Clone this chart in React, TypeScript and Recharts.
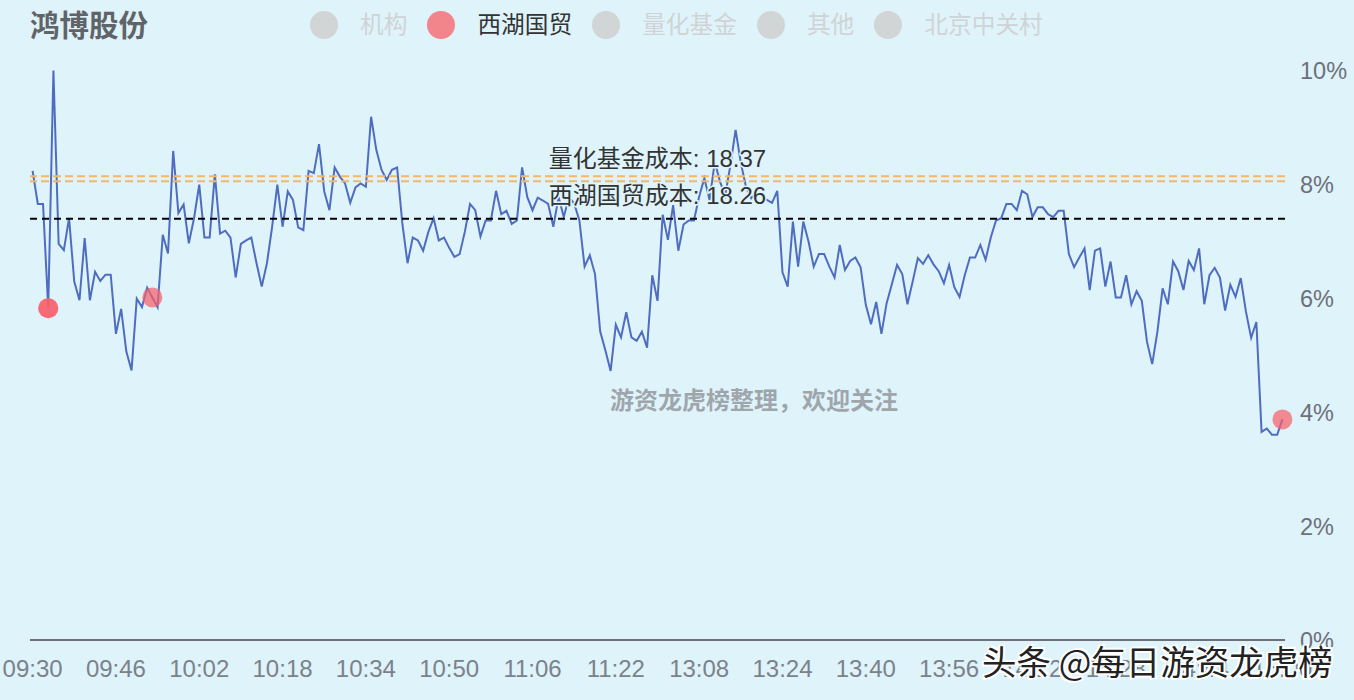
import React from "react";
import { LineChart, Line, XAxis, YAxis, ReferenceLine } from "recharts";

const stockName = "鸿博股份";
const watermark = "游资龙虎榜整理\uFF0C欢迎关注";
const signature = "头条 @每日游资龙虎榜";

const morningMinutes = Array.from({ length: 121 }, (_, i) => {
  const m = 9 * 60 + 30 + i;
  return `${String(Math.floor(m / 60)).padStart(2, "0")}:${String(m % 60).padStart(2, "0")}`;
});
const afternoonMinutes = Array.from({ length: 120 }, (_, i) => {
  const m = 13 * 60 + 1 + i;
  return `${String(Math.floor(m / 60)).padStart(2, "0")}:${String(m % 60).padStart(2, "0")}`;
});
const times = [...morningMinutes, ...afternoonMinutes];

const xTicks = ["09:30","09:46","10:02","10:18","10:34","10:50","11:06","11:22","13:08","13:24","13:40","13:56","14:12","14:28","14:44","15:00"];
const yTicks = [0, 2, 4, 6, 8, 10];

const pct = [
  8.23,7.65,7.65,5.82,9.99,6.95,6.84,7.40,6.29,5.96,7.05,5.96,6.46,6.30,6.41,6.41,5.37,5.81,5.06,4.73,
  5.99,5.84,6.18,6.01,5.84,7.11,6.78,8.58,7.49,7.64,6.96,7.40,7.99,7.06,7.06,8.17,7.13,7.18,7.06,6.36,
  6.95,7.01,7.06,6.61,6.20,6.61,7.25,7.99,7.25,7.87,7.72,7.24,7.19,8.23,8.19,8.70,7.87,7.54,8.29,8.13,
  8.01,7.67,7.94,8.01,7.95,9.18,8.60,8.25,8.07,8.25,8.29,7.31,6.61,7.06,7.01,6.83,7.16,7.40,7.01,7.06,
  6.88,6.72,6.77,7.16,7.65,7.54,7.08,7.36,7.36,7.88,7.47,7.53,7.30,7.36,8.29,7.77,7.54,7.76,7.71,7.65,
  7.25,7.77,7.42,7.77,7.66,7.36,6.55,6.75,6.42,5.41,5.08,4.72,5.53,5.31,5.75,5.31,5.25,5.41,5.13,6.40,
  5.95,7.46,7.02,7.63,6.83,7.29,7.36,7.36,7.78,8.10,7.72,8.39,8.04,7.80,8.33,8.95,8.37,7.95,7.75,7.85,
  7.80,7.72,7.67,7.88,6.45,6.20,7.34,6.55,7.34,6.99,6.55,6.77,6.77,6.55,6.36,6.93,6.49,6.65,6.71,6.54,
  5.88,5.54,5.93,5.37,5.91,6.24,6.58,6.42,5.89,6.29,6.70,6.60,6.75,6.59,6.47,6.26,6.58,6.19,6.02,6.40,
  6.71,6.71,6.93,6.67,7.06,7.36,7.40,7.65,7.65,7.54,7.88,7.82,7.42,7.59,7.59,7.47,7.42,7.53,7.53,6.77,
  6.54,6.71,6.87,6.14,6.83,6.87,6.20,6.64,6.01,6.01,6.40,5.89,6.12,5.95,5.23,4.84,5.41,6.17,5.89,6.64,
  6.47,6.14,6.65,6.49,6.87,5.89,6.40,6.53,6.36,5.78,6.23,6.02,6.35,5.76,5.30,5.58,3.65,3.71,3.60,3.60,
  3.87,
];

const tradeTimesA = ["09:33", "09:53", "15:00"];
const tradeTimesB = ["09:33"];

const costLines = [
  { name: "量化基金", value: 8.135, cost: "18.37" },
  { name: "西湖国贸", value: 8.05, cost: "18.26" },
];
const averageLine = 7.39;

const legendItems = [
  { name: "机构", active: false },
  { name: "西湖国贸", active: true },
  { name: "量化基金", active: false },
  { name: "其他", active: false },
  { name: "北京中关村", active: false },
];

const rows = times.map((t, i) => ({
  time: t,
  pct: pct[i],
  tradeA: tradeTimesA.includes(t) ? pct[i] : null,
  tradeB: tradeTimesB.includes(t) ? pct[i] : null,
}));

const BG = "#dff3fb";
const FONT = '"Liberation Sans", "Noto Sans CJK SC", sans-serif';
const CJK = '"Noto Sans CJK SC", sans-serif';
const halo = { paintOrder: "stroke", stroke: BG, strokeWidth: 3 } as React.CSSProperties;

function CostLabel(props: any) {
  const { viewBox, text, dy } = props;
  return (
    <text
      x={viewBox.x + viewBox.width / 2}
      y={viewBox.y + dy}
      textAnchor="middle"
      dominantBaseline="central"
      fontSize={24}
      fill="#333333"
      style={halo}
    >
      {text}
    </text>
  );
}

export default function App() {
  return (
    <div style={{ position: "absolute", left: 0, top: 0, width: 1354, height: 700, background: BG, fontFamily: FONT, overflow: "hidden" }}>
      <LineChart width={1354} height={700} data={rows} margin={{ top: 70, right: 0, bottom: 0, left: 30 }}>
        <XAxis
          dataKey="time"
          ticks={xTicks}
          interval={0}
          height={60}
          padding={{ left: 2.6, right: 2.6 }}
          tickLine={false}
          tick={{ fontSize: 24, fill: "#7b8289" }}
          tickMargin={14}
          axisLine={{ stroke: "#6e7079", strokeWidth: 2 }}
        />
        <YAxis
          orientation="right"
          width={69}
          domain={[0, 10]}
          ticks={yTicks}
          tickFormatter={(v: number) => `${v}%`}
          axisLine={false}
          tickLine={false}
          tickMargin={9}
          dy={1}
          tick={{ fontSize: 23.5, fill: "#6e7079", textAnchor: "start" }}
        />
        <Line dataKey="tradeA" stroke="none" isAnimationActive={false} legendType="none"
          dot={{ r: 10, fill: "#f8606a", fillOpacity: 0.72, stroke: "none" }} activeDot={false} />
        <Line dataKey="tradeB" stroke="none" isAnimationActive={false} legendType="none"
          dot={{ r: 10, fill: "#f8606a", fillOpacity: 0.72, stroke: "none" }} activeDot={false} />
        <Line dataKey="pct" stroke="#4f6dc0" strokeWidth={2} dot={false} isAnimationActive={false} />
        <ReferenceLine y={averageLine} stroke="#000000" strokeWidth={2} strokeDasharray="7 5" />
        {costLines.map((c, i) => (
          <ReferenceLine
            key={c.name}
            y={c.value}
            stroke="#f5b766"
            strokeWidth={2}
            strokeDasharray="8 4"
            label={<CostLabel text={`${c.name}成本: ${c.cost}`} dy={i === 0 ? -18 : 14.5} />}
          />
        ))}
      </LineChart>

      <div style={{ position: "absolute", left: 30, top: 2, fontSize: 29.5, lineHeight: "42px", fontWeight: 700, color: "#5f6468", fontFamily: CJK }}>
        {stockName}
      </div>

      <div style={{ position: "absolute", left: 310, top: 11, display: "flex", alignItems: "center", fontSize: 23.7, lineHeight: "28px", fontFamily: CJK }}>
        {legendItems.map((it) => (
          <div key={it.name} style={{ display: "flex", alignItems: "center", marginRight: 20 }}>
            <span style={{ width: 28, height: 28, borderRadius: 14, marginRight: 22, background: it.active ? "#f2858c" : "#d2d5d6" }} />
            <span style={{ position: "relative", top: -2, color: it.active ? "#333333" : "#cfd3d5" }}>{it.name}</span>
          </div>
        ))}
      </div>

      <div style={{ position: "absolute", left: 610, top: 382, fontSize: 24, lineHeight: "34px", fontWeight: 700, color: "#9ea6ab", whiteSpace: "nowrap", fontFamily: CJK }}>
        {watermark}
      </div>

      <div style={{ position: "absolute", left: 982, top: 637, fontSize: 34.5, lineHeight: "46px", color: "#222222", whiteSpace: "pre", textShadow: "-2px 2px 0 #ffffff, 2px -2px 0 #ffffff, -2px -1px 0 #ffffff, 2px 1px 0 #ffffff", fontFamily: CJK }}>
        {signature}
      </div>
    </div>
  );
}
